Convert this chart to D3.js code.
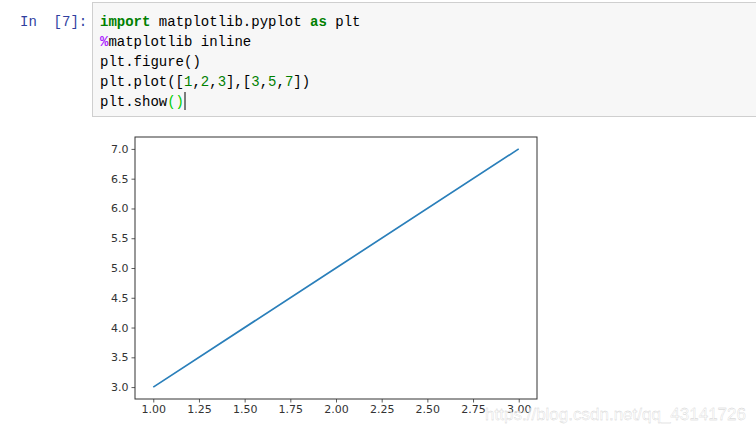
<!DOCTYPE html>
<html>
<head>
<meta charset="utf-8">
<script src="https://cdn.jsdelivr.net/npm/d3@7"></script>
<style>
  body { margin: 0; background: #fff; }
  svg { display: block; }
</style>
</head>
<body>
<svg width="756" height="433"></svg>
<script>
// data
var xs = [1, 2, 3];
var ys = [3, 5, 7];
var xTicks = [1.00, 1.25, 1.50, 1.75, 2.00, 2.25, 2.50, 2.75, 3.00];
var yTicks = [3.0, 3.5, 4.0, 4.5, 5.0, 5.5, 6.0, 6.5, 7.0];
var codeLines = [
  [["import", "#008000", "bold"], [" matplotlib.pyplot ", "#000"], ["as", "#008000", "bold"], [" plt", "#000"]],
  [["%", "#aa22ff", "bold"], ["matplotlib inline", "#000"]],
  [["plt.figure()", "#000"]],
  [["plt.plot([", "#000"], ["1", "#008000"], [",", "#000"], ["2", "#008000"], [",", "#000"], ["3", "#008000"],
   ["],[", "#000"], ["3", "#008000"], [",", "#000"], ["5", "#008000"], [",", "#000"], ["7", "#008000"], ["])", "#000"]],
  [["plt.show", "#000"], ["()", "#00cc00"]]
];

var svg = d3.select("svg");

// notebook cell
svg.append("text").attr("x", 20).attr("y", 26).attr("xml:space", "preserve")
  .style("font-family", "Liberation Mono, monospace").style("font-size", "14px")
  .style("fill", "#303f9f").text("In  [7]:");

svg.append("rect").attr("x", 92.5).attr("y", 2.5).attr("width", 670).attr("height", 114)
  .style("fill", "#f7f7f7").style("stroke", "#cfcfcf");

var code = svg.append("g").style("font-family", "Liberation Mono, monospace").style("font-size", "14px");
codeLines.forEach(function(line, i) {
  var t = code.append("text").attr("x", 100).attr("y", 26 + i * 20).attr("xml:space", "preserve");
  line.forEach(function(p) {
    t.append("tspan").text(p[0]).style("fill", p[1]).style("font-weight", p[2] || "normal");
  });
});
// cursor
var cx = 100 + 10 * 8.4 + 1;
svg.append("line").attr("x1", cx).attr("x2", cx).attr("y1", 92).attr("y2", 110)
  .style("stroke", "#000").style("stroke-width", 1);

// chart
var pLeft = 135, pRight = 537, pTop = 137, pBottom = 399;
var x = d3.scaleLinear().domain([0.9, 3.1]).range([pLeft, pRight]);
var y = d3.scaleLinear().domain([2.8, 7.2]).range([pBottom, pTop]);

svg.append("rect").attr("x", pLeft).attr("y", pTop).attr("width", pRight - pLeft).attr("height", pBottom - pTop)
  .style("fill", "#fff");

svg.append("path").datum(d3.zip(xs, ys))
  .attr("d", d3.line().x(function(d) { return x(d[0]); }).y(function(d) { return y(d[1]); }))
  .style("fill", "none").style("stroke", "#2a7fba").style("stroke-width", 1.7);

var xAxis = svg.append("g").attr("transform", "translate(0," + pBottom + ")")
  .call(d3.axisBottom(x).tickValues(xTicks).tickFormat(d3.format(".2f")).tickSizeOuter(0).tickSize(3.5).tickPadding(3));
var yAxis = svg.append("g").attr("transform", "translate(" + pLeft + ",0)")
  .call(d3.axisLeft(y).tickValues(yTicks).tickFormat(d3.format(".1f")).tickSizeOuter(0).tickSize(3.5).tickPadding(3));

[xAxis, yAxis].forEach(function(a) {
  a.select(".domain").remove();
  a.selectAll("line").style("stroke", "#333").style("stroke-width", 0.8);
  a.selectAll("text").style("font-family", "DejaVu Sans, sans-serif").style("font-size", "11px").style("fill", "#333");
});

svg.append("rect").attr("x", pLeft).attr("y", pTop).attr("width", pRight - pLeft).attr("height", pBottom - pTop)
  .style("fill", "none").style("stroke", "#333").style("stroke-width", 1);

// watermark
svg.append("text").attr("x", 746).attr("y", 420).attr("text-anchor", "end")
  .style("font-family", "Liberation Sans, Arial, sans-serif").style("font-size", "17px")
  .style("fill", "#fff").style("fill-opacity", 0.75)
  .style("stroke", "#ccc").style("stroke-width", 0.3)
  .text("https://blog.csdn.net/qq_43141726");
</script>
</body>
</html>
